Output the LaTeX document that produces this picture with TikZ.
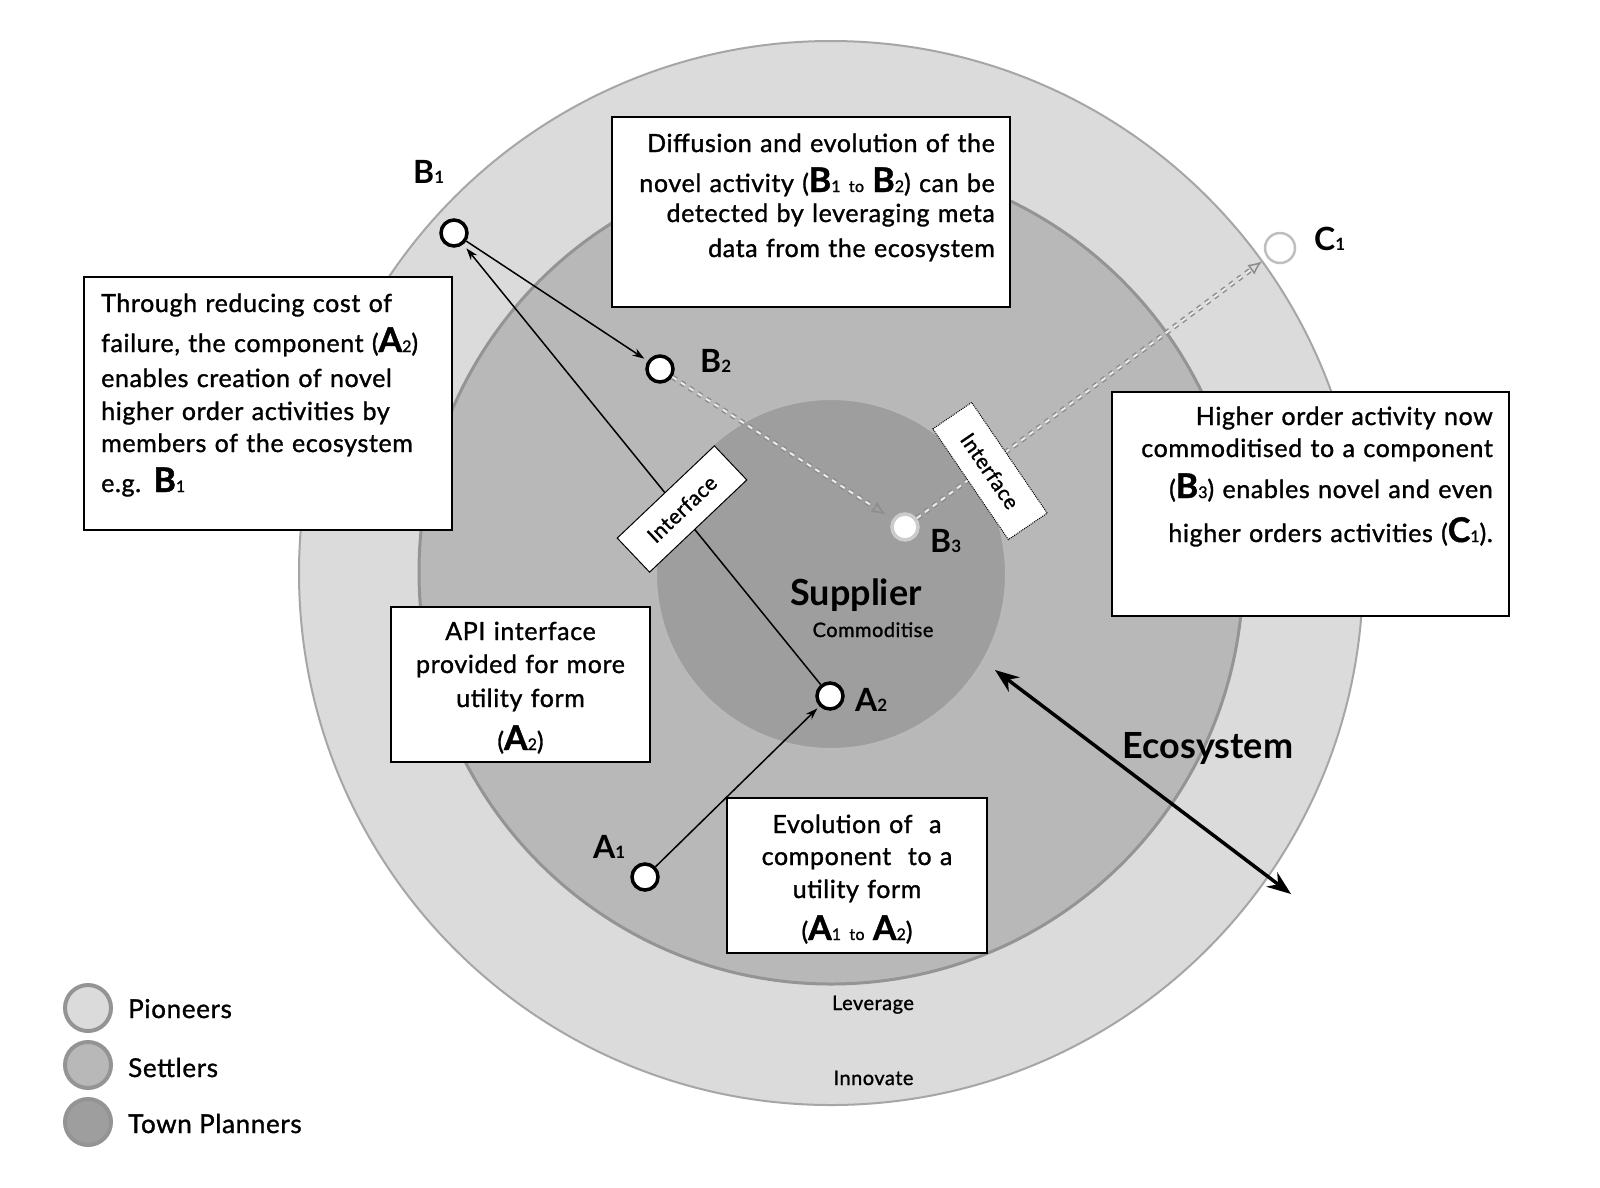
\documentclass[tikz,border=0pt]{standalone}
\usepackage{fontspec}
\setmainfont{Lato}
\newfontfamily\notefont{Lato}[FakeBold=1.2, LetterSpace=2.5]
\usetikzlibrary{positioning, arrows.meta}

\definecolor{pionfill}{gray}{0.86}
\definecolor{settfill}{gray}{0.72}
\definecolor{townfill}{gray}{0.62}
\definecolor{ringedge}{gray}{0.58}

% activity letter inside the notes, and beside the dots
\newcommand{\act}[2]{{\fontsize{34}{34}\selectfont\bfseries #1}{\fontsize{16}{16}\selectfont #2}}
\newcommand{\ptname}[2]{{\fontsize{32}{32}\selectfont\bfseries #1}{\fontsize{17}{17}\selectfont\bfseries #2}}
\newcommand{\smallto}{{\fontsize{16}{16}\selectfont to}}

\begin{document}
\begin{tikzpicture}[x=1pt, y=-1pt, >=Stealth,
    note/.style={draw=black, fill=white, line width=1.4pt, inner sep=0pt},
    notetext/.style={inner sep=0pt, text width=420pt, font=\notefont\fontsize{25}{33}\selectfont},
    actdot/.style={circle, draw=black, fill=white, line width=3.5pt, minimum size=26pt, inner sep=0pt},
    actname/.style={inner sep=0pt, anchor=base west},
    iface/.style={fill=white, line width=1pt, minimum width=134pt, minimum height=47pt, inner sep=0pt, font=\notefont\fontsize{21}{21}\selectfont},
    flow/.style={-{Stealth[length=12pt, width=8pt]}, line width=1.5pt},
    trail/.style={draw=black!45, line width=1.5pt, double=white!92!black, double distance=2pt, dash pattern=on 5pt off 5pt, -{Latex[open, length=14pt, width=12pt]}},
    legdot/.style={circle, draw=ringedge, line width=4pt, minimum size=46pt, inner sep=0pt},
    legname/.style={inner sep=0pt, anchor=base west, font=\notefont\fontsize{26}{26}\selectfont},
    title/.style={inner sep=0pt, anchor=base, font=\fontsize{36}{36}\selectfont\bfseries},
    ringname/.style={inner sep=0pt, anchor=base, font=\notefont\fontsize{20}{20}\selectfont}
]
    \useasboundingbox (0,0) rectangle (1600,1187);
    \fill[white] (0,0) rectangle (1600,1187);

    % Rings
    \filldraw[fill=pionfill, draw=gray!70, line width=2pt] (831,573) circle (532pt);
    \filldraw[fill=settfill, draw=ringedge, line width=3pt] (831,572) circle (412pt);
    \filldraw[fill=townfill, draw=gray!55, line width=2pt] (831,574) circle (175pt);

    % Activities
    \node[actdot] (b1) at (454,233) {};
    \node[actdot] (b2) at (660,369) {};
    \node[actdot, draw=gray!40] (b3) at (905,527) {};
    \node[actdot] (a2) at (830,696) {};
    \node[actdot] (a1) at (645,877) {};
    \node[actdot, draw=gray!50, fill=none, line width=2.5pt, minimum size=30pt] (c1) at (1280,248) {};

    \node[actname] (lb1) at (413,183) {\ptname{B}{1}};
    \node[actname] (lb2) at (700,372) {\ptname{B}{2}};
    \node[actname] (lb3) at (930,552) {\ptname{B}{3}};
    \node[actname] (la2) at (855,711) {\ptname{A}{2}};
    \node[actname] (la1) at (593,858) {\ptname{A}{1}};
    \node[actname] (lc1) at (1314,250) {\ptname{C}{1}};

    % Movements
    \draw[flow, shorten >=4pt] (b1) -- (b2);
    \draw[flow, shorten >=5pt] (a2) -- (b1);
    \draw[flow, shorten >=3pt] (a1) -- (a2);
    \draw[trail, shorten >=8pt] (b2) -- (b3);
    \draw[trail, shorten >=6pt] (b3) -- (c1);

    % Ecosystem arrow
    \coordinate (ecoin) at (995,670);
    \coordinate (ecoout) at (1291,894);
    \draw[{Stealth[length=24pt, width=18pt]}-{Stealth[length=24pt, width=18pt]}, line width=3.5pt] (ecoin) -- (ecoout);

    % Interfaces
    \node[iface, draw=black, rotate=43.5] (ifleft) at (682,509) {Interface};
    \node[iface, draw=black, densely dotted, rotate=-55.7] (ifright) at (990,471) {Interface};

    % Notes
    \node[note, minimum width=398pt, minimum height=190pt] (diffbox) at (811,212) {};
    \node[notetext, align=right, anchor=base east] (difftxt) at (995,152)
        {Diffusion and evolution of the\\[7pt]
         novel activity (\act{B}{1} \smallto\ \act{B}{2}) can be\\[-3pt]
         detected by leveraging meta\\[2pt]
         data from the ecosystem};

    \node[note, minimum width=368pt, minimum height=253pt] (failbox) at (268,403.5) {};
    \node[notetext, align=left, anchor=base west] (failtxt) at (101,312)
        {Through reducing cost of\\[7pt]
         failure, the component (\act{A}{2})\\[2pt]
         enables creation of novel\\
         higher order activities by\\[-1pt]
         members of the ecosystem\\[7pt]
         e.g. \act{B}{1}};

    \node[note, minimum width=397pt, minimum height=224pt] (highbox) at (1310.5,504) {};
    \node[notetext, align=right, anchor=base east] (hightxt) at (1493,425)
        {Higher order activity now\\[-1pt]
         commoditised to a component\\[8pt]
         (\act{B}{3}) enables novel and even\\[11pt]
         higher orders activities (\act{C}{1}).};

    \node[note, minimum width=259pt, minimum height=155pt] (apibox) at (520.5,684.5) {};
    \node[notetext, text width=250pt, align=center, anchor=base] (apitxt) at (520.5,640)
        {API interface\\
         provided for more\\[1pt]
         utility form\\[10pt]
         (\act{A}{2})};

    \node[note, minimum width=260pt, minimum height=155pt] (evobox) at (857,875.5) {};
    \node[notetext, text width=250pt, align=center, anchor=base] (evotxt) at (857,833)
        {Evolution of\ \ a\\[-1pt]
         component\ \ to a\\
         utility form\\[9pt]
         (\act{A}{1} \smallto\ \act{A}{2})};

    % Ring names
    \node[title] (supplier) at (856,605) {Supplier};
    \node[ringname] (commod) at (873,637) {Commoditise};
    \node[title] (ecosys) at (1208,758) {Ecosystem};
    \node[ringname] (leverage) at (873,1010) {Leverage};
    \node[ringname] (innovate) at (873.5,1085) {Innovate};

    % Legend
    \node[legdot, fill=pionfill] (legpion) at (88,1008) {};
    \node[legdot, fill=settfill] (legsett) at (88,1065) {};
    \node[legdot, fill=townfill] (legtown) at (88,1122) {};
    \node[legname] (namepion) at (128,1018) {Pioneers};
    \node[legname] (namesett) at (128,1077) {Settlers};
    \node[legname] (nametown) at (128,1133) {Town Planners};
\end{tikzpicture}
\end{document}
